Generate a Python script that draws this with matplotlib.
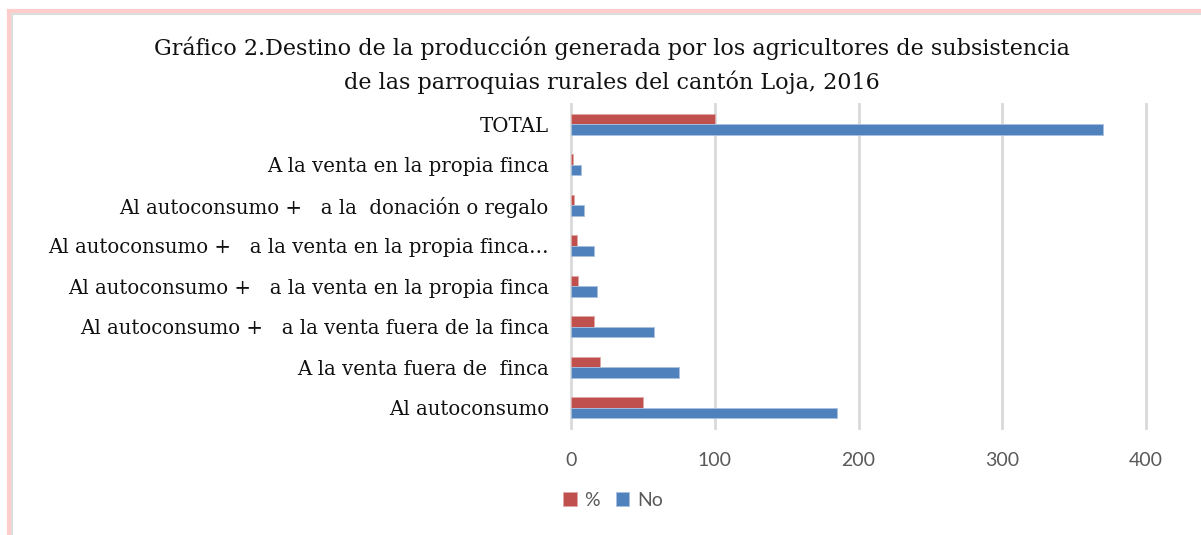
import matplotlib.pyplot as plt
from matplotlib.lines import Line2D
import numpy as np

categorias = ["Al autoconsumo",
              "A la venta fuera de  finca",
              "Al autoconsumo +   a la venta fuera de la finca",
              "Al autoconsumo +   a la venta en la propia finca",
              "Al autoconsumo +   a la venta en la propia finca…",
              "Al autoconsumo +   a la  donación o regalo",
              "A la venta en la propia finca",
              "TOTAL"]
porcentaje = [50, 20.3, 15.7, 4.9, 4.3, 2.4, 1.6, 100]
numero = [185, 75, 58, 18, 16, 9, 7, 370]
ticks = [0, 100, 200, 300, 400]

rojo = '#C0504D'
azul = '#4F81BD'
gris = '#595959'

fig = plt.figure(figsize=(12.01, 5.35), dpi=100)
ax = fig.add_axes([571/1201, 1-428/535, (1146-571)/1201, (428-104)/535])

y = np.arange(len(categorias))
h = 0.26
ax.barh(y + h/2, porcentaje, height=h, color=rojo, edgecolor='#e0a9a7', linewidth=0.6, label='%', zorder=3)
ax.barh(y - h/2, numero, height=h, color=azul, edgecolor='#a9c0de', linewidth=0.6, label='No', zorder=3)

ax.set_xlim(0, 400)
ax.set_ylim(-0.5, len(categorias) - 0.5)
ax.set_xticks(ticks)
ax.set_xticklabels([str(t) for t in ticks], fontfamily='Lato', fontsize=14, color=gris)
ax.set_yticks(y)
ax.set_yticklabels(categorias, fontfamily='DejaVu Serif', fontsize=14.2, color='#111111')
ax.tick_params(axis='both', length=0)
ax.tick_params(axis='x', pad=17)
ax.tick_params(axis='y', pad=16)
for s in ax.spines.values():
    s.set_visible(False)
ax.grid(axis='x', color='#d9d9d9', linewidth=2, zorder=0)
for gl in ax.get_xgridlines():
    gl.set_clip_on(False)

fig.text(612/1201, 1-48/535, "Gráfico 2.Destino de la producción generada por los agricultores de subsistencia",
         ha='center', va='center', fontfamily='DejaVu Serif', fontsize=16, color='#111111')
fig.text(612/1201, 1-82/535, "de las parroquias rurales del cantón Loja, 2016",
         ha='center', va='center', fontfamily='DejaVu Serif', fontsize=16, color='#111111')

leg = fig.legend(loc='center', bbox_to_anchor=(613/1201, 1-500/535), ncol=2, frameon=False,
                 prop={'family': 'Lato', 'size': 14}, handlelength=0.7, handleheight=0.7,
                 columnspacing=0.8, handletextpad=0.4)
for t in leg.get_texts():
    t.set_color(gris)

# marco del grafico
fig.add_artist(Line2D([9/1201, 1], [1-11/535, 1-11/535], color='#ffcccc', linewidth=3))
fig.add_artist(Line2D([9/1201, 9/1201], [0, 1-11/535], color='#ffcccc', linewidth=3))
fig.add_artist(Line2D([12/1201, 1], [1-14/535, 1-14/535], color='#dddddd', linewidth=1.5))
fig.add_artist(Line2D([12/1201, 12/1201], [0, 1-14/535], color='#dddddd', linewidth=1.5))

plt.savefig('out.png', dpi=100)
